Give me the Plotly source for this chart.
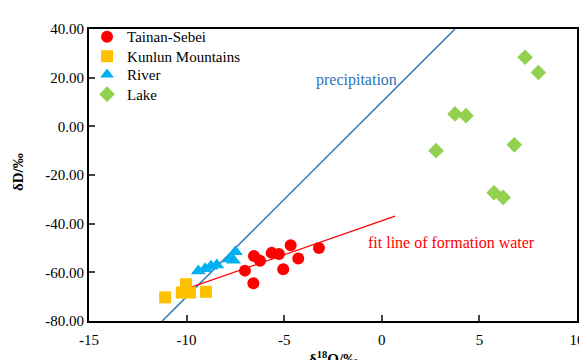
import plotly.graph_objects as go

# Data
tainan_x = [-6.55, -6.24, -5.64, -5.27, -4.67, -4.28, -3.22, -7.01, -5.05, -6.58]
tainan_y = [-53.3, -55.2, -52.0, -52.5, -48.9, -54.3, -50.0, -59.3, -58.7, -64.5]

kunlun_x = [-11.1, -10.25, -10.03, -9.83, -9.01]
kunlun_y = [-70.3, -68.3, -64.9, -68.3, -68.0]

river_x = [-9.4, -9.05, -8.75, -8.45, -7.8, -7.5, -7.6]
river_y = [-59.5, -58.5, -57.5, -57.0, -54.5, -51.5, -55.0]

lake_x = [7.34, 8.02, 3.75, 4.31, 2.78, 6.79, 5.75, 6.22]
lake_y = [28.4, 22.1, 5.1, 4.4, -10.0, -7.6, -27.3, -29.2]

precip_x = [-11.25, 3.75]
precip_y = [-80.0, 40.0]

fit_x = [-9.83, 0.68]
fit_y = [-66.3, -36.9]

x_ticks = [-15, -10, -5, 0, 5, 10]
x_tick_labels = ["-15", "-10", "-5", "0", "5", "10"]
y_ticks = [-80, -60, -40, -20, 0, 20, 40]
y_tick_labels = ["-80.00", "-60.00", "-40.00", "-20.00", "0.00", "20.00", "40.00"]

FONT = "Times New Roman, Liberation Serif, serif"

fig = go.Figure()

fig.add_trace(go.Scatter(x=precip_x, y=precip_y, mode="lines",
                         line=dict(color="#2E75B6", width=1.5), showlegend=False, hoverinfo="skip"))
fig.add_trace(go.Scatter(x=fit_x, y=fit_y, mode="lines",
                         line=dict(color="#FF0000", width=1.2), showlegend=False, hoverinfo="skip"))

fig.add_trace(go.Scatter(x=tainan_x, y=tainan_y, mode="markers", name="Tainan-Sebei", legend="legend",
                         marker=dict(symbol="circle", size=12, color="#FF0000")))
fig.add_trace(go.Scatter(x=kunlun_x, y=kunlun_y, mode="markers", name="Kunlun Mountains", legend="legend2",
                         marker=dict(symbol="square", size=12, color="#FFC000")))
fig.add_trace(go.Scatter(x=river_x, y=river_y, mode="markers", name="River", legend="legend3",
                         marker=dict(symbol="triangle-up", size=13, color="#00B0F0")))
fig.add_trace(go.Scatter(x=lake_x, y=lake_y, mode="markers", name="Lake", legend="legend4",
                         marker=dict(symbol="diamond", size=12, color="#92D050")))

fig.add_annotation(x=-1.32, y=19.2, text="precipitation", showarrow=False,
                   font=dict(family=FONT, size=16, color="#2E75B6"))
fig.add_annotation(x=3.55, y=-47.6, text="fit line of formation water", showarrow=False,
                   font=dict(family=FONT, size=16, color="#FF0000"))

# axis titles
fig.add_annotation(xref="paper", yref="paper", x=0, y=0.51, xshift=-71, textangle=-90,
                   xanchor="center", yanchor="middle", showarrow=False,
                   text="<b>δD/‰</b>", font=dict(family=FONT, size=15, color="black"))
fig.add_annotation(xref="paper", yref="paper", x=0.5, y=0, yshift=-37,
                   xanchor="center", yanchor="middle", showarrow=False,
                   text="<b>δ<sup>18</sup>O/‰</b>", font=dict(family=FONT, size=15, color="black"))

def leg(yc):
    return dict(x=-0.004, y=yc, xanchor="left", yanchor="middle",
                bgcolor="rgba(0,0,0,0)", font=dict(family=FONT, size=15),
                itemsizing="constant")

fig.update_layout(
    width=587, height=360,
    margin=dict(l=81, r=18, t=13, b=47),
    paper_bgcolor="white", plot_bgcolor="white",
    font=dict(family=FONT, size=15, color="black"),
    legend=leg(0.973), legend2=leg(0.906), legend3=leg(0.843), legend4=leg(0.776),
)
fig.update_xaxes(range=[-15, 10], tickvals=x_ticks, ticktext=x_tick_labels,
                 ticks="inside", ticklen=6, tickwidth=1.5,
                 showline=True, linecolor="black", linewidth=2, mirror=True,
                 showgrid=False, zeroline=False, automargin=False,
                 ticklabelstandoff=4,
                 tickfont=dict(family=FONT, size=15))
fig.update_yaxes(range=[-80, 40], tickvals=y_ticks, ticktext=y_tick_labels,
                 ticks="inside", ticklen=6, tickwidth=1.5,
                 showline=True, linecolor="black", linewidth=2, mirror=True,
                 showgrid=False, zeroline=False, automargin=False,
                 tickfont=dict(family=FONT, size=15))

fig.write_html("out.html")
